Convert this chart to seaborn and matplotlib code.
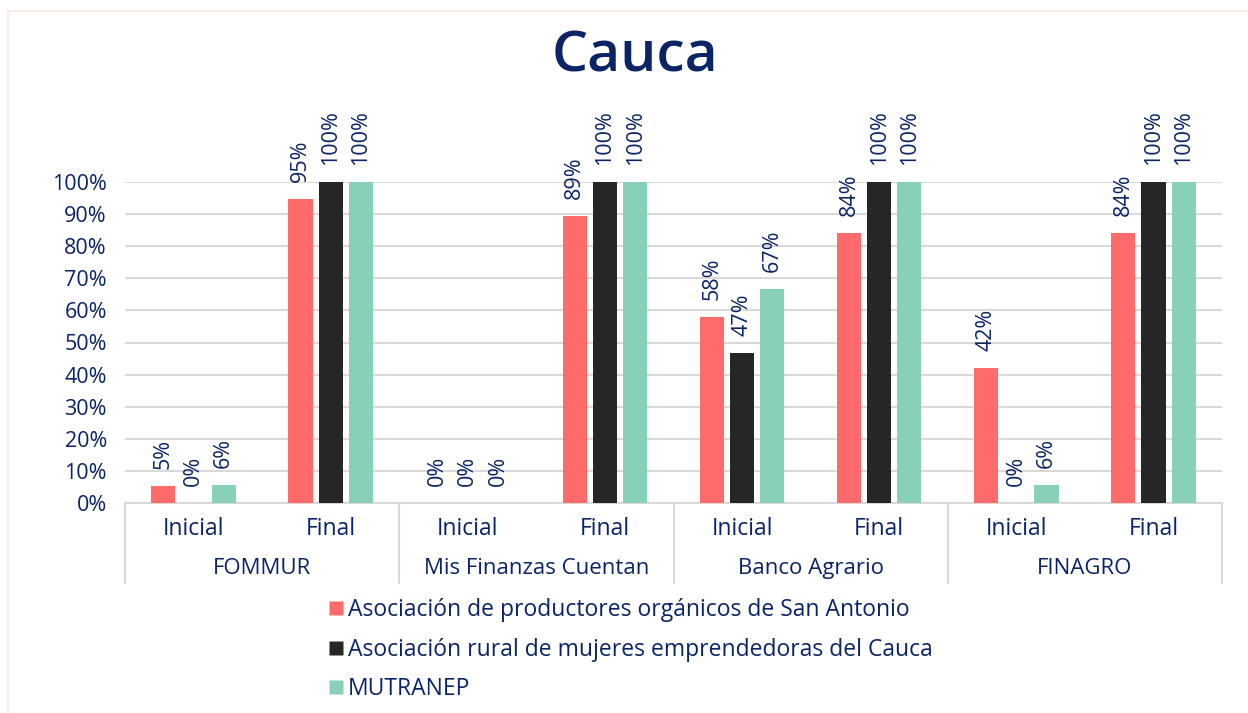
import numpy as np
import pandas as pd
import matplotlib.pyplot as plt
import matplotlib.lines as mlines
import matplotlib.transforms as mtransforms
import seaborn as sns

# datos (porcentajes)
grupos = ["FOMMUR", "Mis Finanzas Cuentan", "Banco Agrario", "FINAGRO"]
etapas = ["Inicial", "Final"]
orgs = ["Asociación de productores orgánicos de San Antonio",
        "Asociación rural de mujeres emprendedoras del Cauca",
        "MUTRANEP"]
san_antonio = [5.3, 94.7, 0, 89.4, 57.9, 84.2, 42.1, 84.2]
mujeres = [0, 100, 0, 100, 46.7, 100, 0, 100]
mutranep = [5.6, 100, 0, 100, 66.7, 100, 5.6, 100]
colores = ["#FF6B6B", "#262626", "#88D1B8"]
navy = "#0B2466"

cats = [g + "|" + e for g in grupos for e in etapas]
rows = []
for org, vals in zip(orgs, [san_antonio, mujeres, mutranep]):
    for c, v in zip(cats, vals):
        rows.append({"cat": c, "org": org, "valor": v / 100})
df = pd.DataFrame(rows)

sns.set_style("white")
plt.rcParams['font.family'] = ['Open Sans', 'DejaVu Sans']

fig = plt.figure(figsize=(12.48, 7.13), dpi=100)
ax = fig.add_axes([125 / 1248, 1 - 503 / 713, (1222 - 125) / 1248, (503 - 182) / 713])

sns.barplot(data=df, x="cat", y="valor", hue="org", order=cats, hue_order=orgs,
            palette=colores, saturation=1, width=0.66, gap=0.2, ax=ax, legend=False,
            edgecolor="none", linewidth=0, zorder=3)

ax.set_ylim(0, 1)
ax.set_xlim(-0.5, len(cats) - 0.5)
ax.set_yticks(np.arange(0, 1.01, 0.1))
ax.set_yticklabels([f"{int(round(t * 100))}%" for t in np.arange(0, 1.01, 0.1)])
ax.tick_params(axis="y", length=0, pad=13, labelsize=15.5, labelcolor=navy)
ax.set_xticks([])
ax.set_xlabel("")
ax.set_ylabel("")
ax.grid(axis="y", color="#D9D9D9", linewidth=1.5, zorder=0)
for s in ["top", "right", "left"]:
    ax.spines[s].set_visible(False)
ax.spines["bottom"].set_color("#D9D9D9")
ax.spines["bottom"].set_linewidth(1.5)

for cont in ax.containers:
    labels = [f"{b.get_height() * 100:.0f}%" for b in cont]
    ax.bar_label(cont, labels=labels, rotation=90, padding=12, fontsize=15.5,
                 color=navy, clip_on=False)

# eje de categorias de dos niveles
trans = mtransforms.blended_transform_factory(ax.transData, ax.transAxes)
for i, c in enumerate(cats):
    ax.text(i, -0.08, c.split("|")[1], transform=trans, ha="center", va="center",
            fontsize=16.5, color=navy)
for j, g in enumerate(grupos):
    ax.text(2 * j + 0.5, -0.205, g, transform=trans, ha="center", va="center",
            fontsize=16, color=navy)
for k in range(len(grupos) + 1):
    ax.plot([2 * k - 0.5, 2 * k - 0.5], [0, -0.25], transform=trans,
            color="#D9D9D9", linewidth=1.5, clip_on=False)

# leyenda
handles = [mlines.Line2D([], [], marker="s", linestyle="none", markersize=10.5,
                         markerfacecolor=col, markeredgecolor="none") for col in colores]
fig.legend(handles, orgs, loc="upper left", bbox_to_anchor=(315 / 1248, 1 - 589 / 713),
           frameon=False, fontsize=16.5, labelcolor=navy, handletextpad=0.05,
           labelspacing=0.68, handlelength=1.0, borderaxespad=0)

fig.text(635 / 1248, 1 - 58 / 713, "Cauca", ha="center", va="center",
         fontsize=41, fontweight="semibold", color=navy)

# borde fino del recuadro
borde = "#FBE8DC"
fig.add_artist(mlines.Line2D([8 / 1248, 1], [1 - 11 / 713, 1 - 11 / 713],
                             transform=fig.transFigure, color=borde, linewidth=1.2))
fig.add_artist(mlines.Line2D([8 / 1248, 8 / 1248], [0, 1 - 11 / 713],
                             transform=fig.transFigure, color=borde, linewidth=1.2))

fig.savefig("out.png", dpi=100, facecolor="white")
